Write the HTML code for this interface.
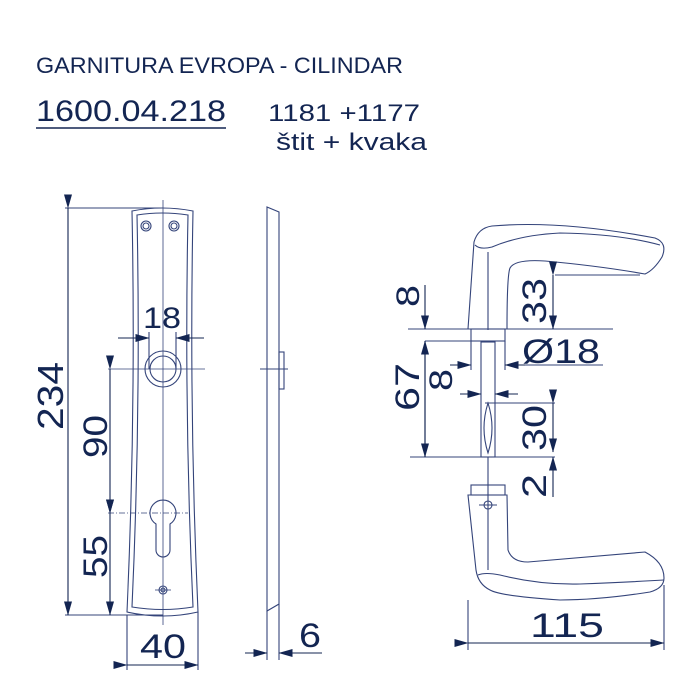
<!DOCTYPE html>
<html><head><meta charset="utf-8"><style>
html,body{margin:0;padding:0;background:#fff;}
svg{display:block;}
text{font-family:"Liberation Sans",sans-serif;fill:#132552;}
</style></head><body>
<svg width="700" height="700" viewBox="0 0 700 700" xmlns="http://www.w3.org/2000/svg">
<defs>
<marker id="a" markerWidth="14" markerHeight="8" refX="13.5" refY="4" orient="auto" markerUnits="userSpaceOnUse"><path d="M0,0 L14,4 L0,8 Z" fill="#132552"/></marker>
</defs>
<text x="36" y="73" font-size="22" textLength="367" lengthAdjust="spacingAndGlyphs">GARNITURA EVROPA - CILINDAR</text>
<text x="36" y="121" font-size="30" textLength="190" lengthAdjust="spacingAndGlyphs">1600.04.218</text>
<line x1="36" y1="128" x2="226" y2="128" stroke="#132552" stroke-width="1.5"/>
<text x="268" y="121" font-size="24" textLength="152" lengthAdjust="spacingAndGlyphs">1181  +1177</text>
<text x="276" y="150" font-size="24" textLength="151" lengthAdjust="spacingAndGlyphs">štit   + kvaka</text>

<g fill="none" stroke="#34447a" stroke-width="1.1">
<path d="M132,211 Q162,205 193,211 Q189,410 198,612 Q163,620 127,612 Q136,410 132,211 Z"/>
<path d="M137,215 Q162,211 188,215 Q184,410 193,607 Q163,612 132,607 Q141,410 137,215 Z"/>
<circle cx="146" cy="226" r="5"/><circle cx="146" cy="226" r="3"/>
<circle cx="174" cy="226" r="5"/><circle cx="174" cy="226" r="3"/>
<circle cx="163" cy="369" r="18"/><circle cx="163" cy="369" r="13"/>
<path d="M156,524 A13,13 0 1 1 170,524 L170,550 A7,7 0 0 1 156,550 Z"/>
<circle cx="163" cy="590" r="4"/><circle cx="163" cy="590" r="2"/>
<line x1="163" y1="200" x2="163" y2="625" stroke-width="0.8"/>
<line x1="108" y1="369" x2="205" y2="369" stroke-width="0.8"/>
<line x1="108" y1="513" x2="188" y2="513" stroke-dasharray="6,2,1,2" stroke-width="0.8"/>
<line x1="155" y1="590" x2="171" y2="590" stroke-width="0.8"/>
<line x1="65" y1="208" x2="163" y2="208"/>
<line x1="65" y1="615" x2="163" y2="615"/>
<line x1="127" y1="615" x2="127" y2="670"/>
<line x1="198" y1="612" x2="198" y2="670"/>
<line x1="149" y1="332" x2="149" y2="369"/>
<line x1="176" y1="332" x2="176" y2="369"/>
<path d="M267,207 L279,212 L279,604 L267,611 Z"/>
<rect x="279" y="352" width="5" height="37"/>
<line x1="260" y1="369" x2="288" y2="369"/>
<line x1="267" y1="611" x2="267" y2="660"/>
<line x1="279" y1="604" x2="279" y2="660"/>
</g>
<g stroke="#132552" stroke-width="1.1" fill="none">
<line x1="68" y1="208" x2="68" y2="615" marker-start="url(#a)" marker-end="url(#a)"/>
<line x1="110" y1="369" x2="110" y2="513" marker-start="url(#a)" marker-end="url(#a)"/>
<line x1="110" y1="513" x2="110" y2="615" marker-start="url(#a)" marker-end="url(#a)"/>
<line x1="118" y1="338" x2="149" y2="338" marker-end="url(#a)"/>
<line x1="204" y1="338" x2="176" y2="338" marker-end="url(#a)"/>
<line x1="127" y1="665" x2="198" y2="665" marker-start="url(#a)" marker-end="url(#a)"/>
<line x1="245" y1="653" x2="267" y2="653" marker-end="url(#a)"/>
<line x1="322" y1="653" x2="279" y2="653" marker-end="url(#a)"/>
</g>
<text x="143" y="328" font-size="30" textLength="38" lengthAdjust="spacingAndGlyphs">18</text>
<text x="140" y="658" font-size="34" textLength="46" lengthAdjust="spacingAndGlyphs">40</text>
<text x="299" y="647" font-size="34" textLength="22" lengthAdjust="spacingAndGlyphs">6</text>
<text transform="translate(63,430) rotate(-90)" font-size="36" textLength="68" lengthAdjust="spacingAndGlyphs">234</text>
<text transform="translate(107,458) rotate(-90)" font-size="34" textLength="43" lengthAdjust="spacingAndGlyphs">90</text>
<text transform="translate(107,578) rotate(-90)" font-size="34" textLength="43" lengthAdjust="spacingAndGlyphs">55</text>

<g fill="none" stroke="#34447a" stroke-width="1.1">
<path d="M468,329 L474,242 Q478,228 492,226 Q560,220 655,238 Q668,243 662,257 Q654,270 645,274 Q600,266 545,261 Q515,259 510,268 Q507,275 507,329"/>
<path d="M475,245 Q480,250 492,247 Q520,235 560,233 Q620,234 660,245"/>
<line x1="488" y1="252" x2="488" y2="330"/>
<line x1="408" y1="329" x2="613" y2="329"/>
<rect x="471" y="329" width="34" height="12"/>
<line x1="471" y1="341" x2="471" y2="370"/>
<line x1="505" y1="341" x2="505" y2="370"/>
<rect x="481" y="342" width="14" height="115"/>
<path d="M488,403 Q480,428 488,453 Q496,428 488,403 Z"/>
<line x1="485" y1="403" x2="555" y2="403"/>
<line x1="410" y1="457" x2="555" y2="457"/>
<line x1="425" y1="341" x2="481" y2="341"/>
<line x1="488" y1="457" x2="488" y2="570"/>
<rect x="471" y="485" width="34" height="10"/>
<path d="M468,495 L507,495 L508,550 Q512,562 528,562 Q600,556 645,552 Q664,562 664,578 Q664,588 650,592 Q600,600 560,600 Q500,596 490,590 Q478,584 476,570 Z"/>
<path d="M478,575 Q485,572 500,575 Q540,585 580,584 Q630,582 664,580"/>
<circle cx="488" cy="505" r="4"/>
<line x1="479" y1="505" x2="497" y2="505"/>
<line x1="468" y1="600" x2="468" y2="650"/>
<line x1="664" y1="585" x2="664" y2="650"/>
<line x1="555" y1="275" x2="640" y2="275"/>
<line x1="505" y1="365" x2="603" y2="365"/>
</g>
<g stroke="#132552" stroke-width="1.1" fill="none">
<line x1="425" y1="285" x2="425" y2="329" marker-end="url(#a)"/>
<line x1="425" y1="457" x2="425" y2="341" marker-end="url(#a)"/>
<line x1="425" y1="341" x2="425" y2="457" marker-end="url(#a)"/>
<line x1="553" y1="275" x2="553" y2="329" marker-start="url(#a)" marker-end="url(#a)"/>
<line x1="450" y1="365" x2="471" y2="365" marker-end="url(#a)"/>
<line x1="525" y1="365" x2="505" y2="365" marker-end="url(#a)"/>
<line x1="460" y1="394" x2="481" y2="394" marker-end="url(#a)"/>
<line x1="518" y1="394" x2="495" y2="394" marker-end="url(#a)"/>
<line x1="553" y1="403" x2="553" y2="452" marker-start="url(#a)" marker-end="url(#a)"/>
<line x1="553" y1="497" x2="553" y2="457" marker-end="url(#a)"/>
<line x1="468" y1="643" x2="664" y2="643" marker-start="url(#a)" marker-end="url(#a)"/>
</g>
<text transform="translate(419,307) rotate(-90)" font-size="32" textLength="22" lengthAdjust="spacingAndGlyphs">8</text>
<text transform="translate(419,411) rotate(-90)" font-size="34" textLength="48" lengthAdjust="spacingAndGlyphs">67</text>
<text transform="translate(452,391) rotate(-90)" font-size="32" textLength="22" lengthAdjust="spacingAndGlyphs">8</text>
<text transform="translate(546,324) rotate(-90)" font-size="34" textLength="46" lengthAdjust="spacingAndGlyphs">33</text>
<text transform="translate(546,451) rotate(-90)" font-size="34" textLength="46" lengthAdjust="spacingAndGlyphs">30</text>
<text transform="translate(546,498) rotate(-90)" font-size="34" textLength="24" lengthAdjust="spacingAndGlyphs">2</text>
<text x="522" y="363" font-size="34" textLength="78" lengthAdjust="spacingAndGlyphs">Ø18</text>
<text x="530" y="637" font-size="34" textLength="74" lengthAdjust="spacingAndGlyphs">115</text>
</svg>
</body></html>
